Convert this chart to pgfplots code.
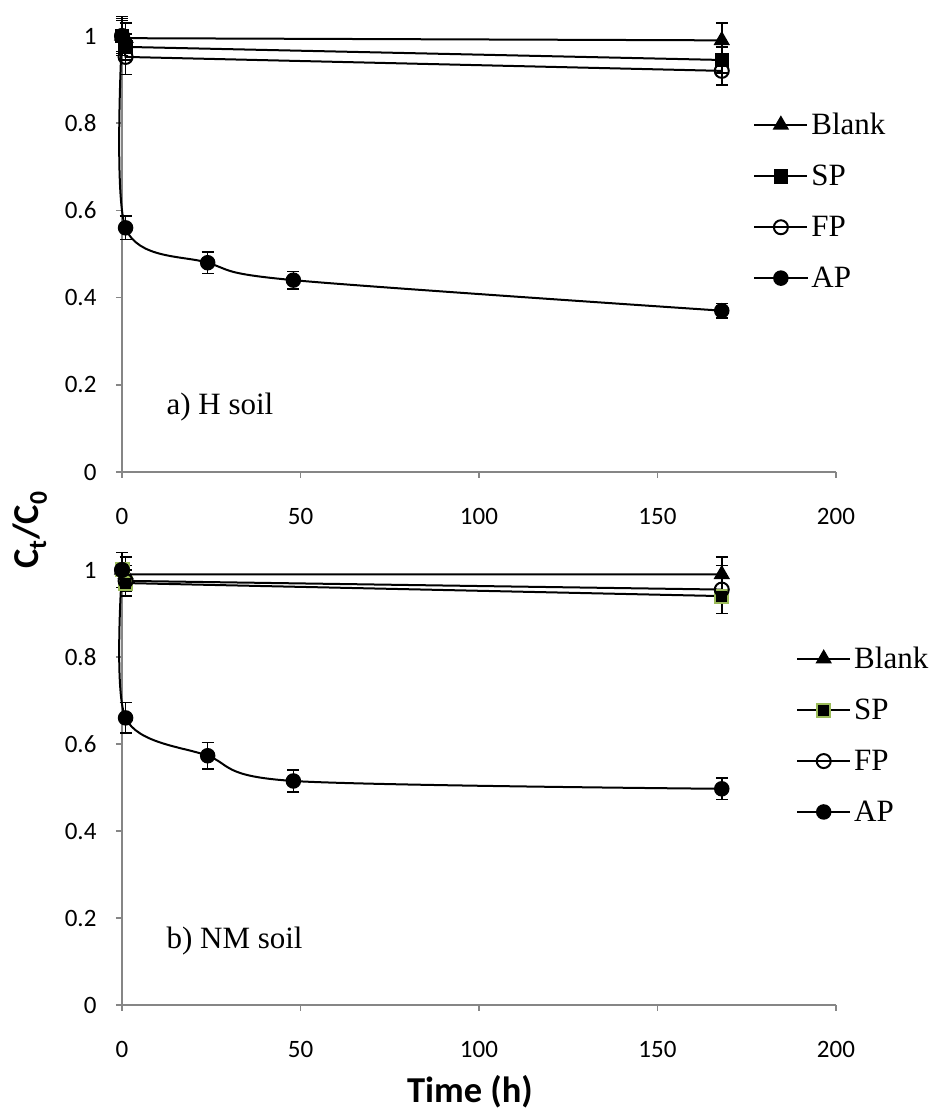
\documentclass[border=0pt]{standalone}
\usepackage{pgfplots}
\pgfplotsset{compat=1.18}
\usepackage{fontspec}
\setmainfont{Liberation Serif}
\newfontfamily\carlito{Carlito}
\definecolor{axgray}{HTML}{868686}
\definecolor{spgreen}{HTML}{9BBB59}
\pgfplotsset{
 myaxis/.style={
  scale only axis, width=714pt,
  xmin=0,xmax=200,ymin=0,ymax=1,
  axis x line=bottom, axis y line=left,
  axis line style={axgray, line width=2pt, -},
  xtick={0,50,100,150,200}, ytick={0,0.2,0.4,0.6,0.8,1},
  major tick length=6pt, tick align=outside,
  tick style={axgray, line width=1.5pt},
  tick label style={font=\carlito\fontsize{25}{30}\selectfont, black},
  xticklabel style={yshift=-27pt},
  yticklabel style={xshift=-16pt},
  /pgf/number format/assume math mode=true,
  clip=false,
  legend style={draw=none, fill=none, font=\fontsize{31}{37}\selectfont, anchor=north west, legend cell align=left, row sep=23pt, inner sep=0pt, nodes={inner sep=3pt}},
  legend image code/.code={\draw[mark repeat=2,mark phase=2] plot coordinates {(0pt,0pt)(26.5pt,0pt)(53pt,0pt)};},
 },
 eb/.style={black, line width=2pt, mark options={solid, line width=1.5pt},
   error bars/y dir=both, error bars/y explicit,
   error bars/error bar style={line width=1.5pt, black},
   error bars/error mark options={rotate=90, mark size=6pt, line width=1.5pt, black}},
}
\begin{document}
\begin{tikzpicture}
\path[use as bounding box] (0pt,0pt) rectangle (933pt,1112pt);
% top axis
\begin{axis}[myaxis, at={(122pt,640pt)}, anchor=south west, height=436pt,
  legend style={at={(rel axis cs:0.884,0.83)}}]
\addplot[eb, mark=triangle*, mark size=8pt] coordinates {(0,1) +- (0,0.04) (1,0.995) +- (0,0.035) (168,0.99) +- (0,0.04)};
\addlegendentry{Blank}
\addplot[eb, mark=square*, mark size=6.5pt] coordinates {(0,1) +- (0,0.045) (1,0.975) +- (0,0.03) (168,0.945) +- (0,0.03)};
\addlegendentry{SP}
\addplot[eb, mark=o, mark size=7pt, mark options={fill=white}] coordinates {(0,1) +- (0,0.035) (1,0.952) +- (0,0.04) (168,0.92) +- (0,0.032)};
\addlegendentry{FP}
\addplot[eb, smooth, mark=*, mark size=7pt] coordinates {(0,1) +- (0,0.04) (1,0.56) +- (0,0.027) (24,0.48) +- (0,0.025) (48,0.44) +- (0,0.02) (168,0.37) +- (0,0.017)};
\addlegendentry{AP}
\node[anchor=base west, font=\fontsize{31}{37}\selectfont] at (axis cs:11.5,0.131) {a) H soil};
\end{axis}
% bottom axis
\begin{axis}[myaxis, at={(122pt,107pt)}, anchor=south west, height=435pt,
  legend style={at={(rel axis cs:0.944,0.83)}}]
\addplot[eb, mark=triangle*, mark size=8pt] coordinates {(0,1) +- (0,0.04) (1,0.99) +- (0,0.04) (168,0.99) +- (0,0.04)};
\addlegendentry{Blank}
\addplot[eb, mark=square*, mark size=6.5pt, mark options={fill=black, draw=spgreen}] coordinates {(0,1) +- (0,0.04) (1,0.97) +- (0,0.03) (168,0.94) +- (0,0.04)};
\addlegendentry{SP}
\addplot[eb, mark=o, mark size=7pt, mark options={fill=white}] coordinates {(0,1) +- (0,0.04) (1,0.975) +- (0,0.035) (168,0.955) +- (0,0.055)};
\addlegendentry{FP}
\addplot[eb, smooth, mark=*, mark size=7pt] coordinates {(0,1) +- (0,0.04) (1,0.66) +- (0,0.035) (24,0.573) +- (0,0.03) (48,0.515) +- (0,0.025) (168,0.497) +- (0,0.025)};
\addlegendentry{AP}
\node[anchor=base west, font=\fontsize{31}{37}\selectfont] at (axis cs:11.5,0.131) {b) NM soil};
\end{axis}
\node[font=\carlito\bfseries\fontsize{36.5}{40}\selectfont] at (470pt,20pt) {Time (h)};
\node[rotate=90, font=\carlito\bfseries\fontsize{36.5}{40}\selectfont] at (30pt,582pt) {C\textsubscript{t}/C\textsubscript{0}};
\end{tikzpicture}
\end{document}
